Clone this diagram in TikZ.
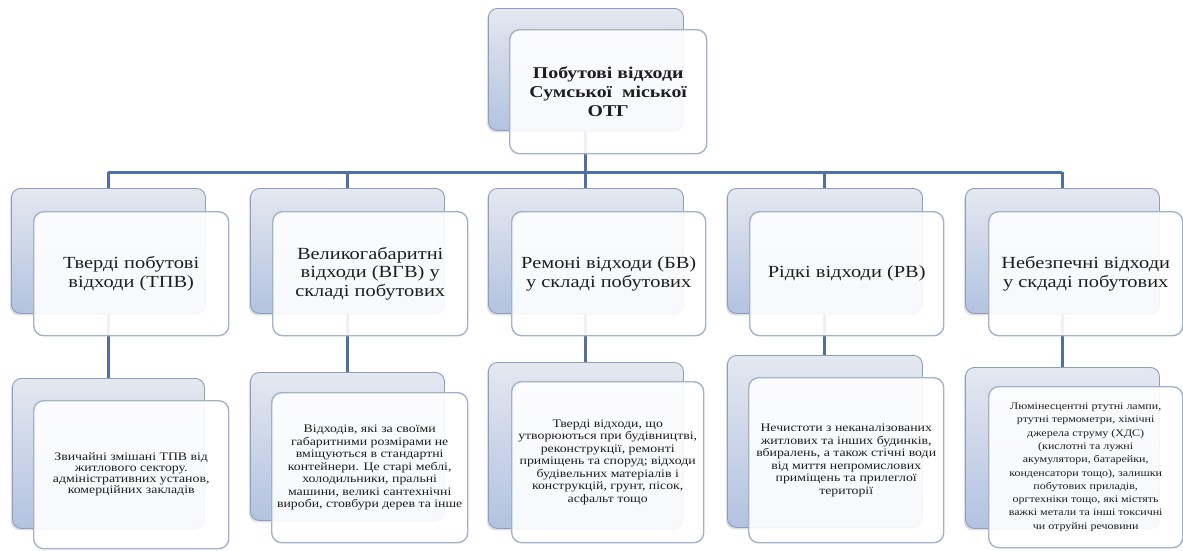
\documentclass[tikz,border=0pt]{standalone}
\usepackage{fontspec}
\setmainfont{Liberation Serif}[FakeStretch=1.2]
\usetikzlibrary{shadows}
\pgfdeclarelayer{background}
\pgfsetlayers{background,main}
\definecolor{conn}{HTML}{4F6FA8}
\definecolor{backtop}{HTML}{E4E8F0}
\definecolor{backbot}{HTML}{B2C2E0}
\definecolor{backdraw}{HTML}{8E9DBA}
\definecolor{frontdraw}{HTML}{A3B1CB}
\definecolor{txt}{HTML}{1E1E1E}
\begin{document}
\begin{tikzpicture}[x=1pt,y=-1pt,
  backbox/.style={draw=backdraw, line width=0.9pt, rounded corners=9pt,
    top color=backtop, bottom color=backbot, anchor=north west, inner sep=0pt,
    drop shadow={shadow xshift=-1.5pt, shadow yshift=-2pt, opacity=0.25}},
  frontbox/.style={draw=frontdraw, line width=1.4pt, rounded corners=10pt,
    fill=white, fill opacity=0.9, text opacity=1, anchor=north west,
    inner sep=0pt, align=center, text=txt},
  toptext/.style={font=\fontsize{16.5}{19}\selectfont\bfseries},
  midtext/.style={font=\fontsize{17}{18.5}\selectfont},
  lowtext/.style={font=\fontsize{11.5}{12.5}\selectfont},
  tighttext/.style={font=\fontsize{11.5}{11}\selectfont},
  smalltext/.style={font=\fontsize{10}{13.3}\selectfont},
  connector/.style={draw=conn, line width=3pt}]
\useasboundingbox (0,0) rectangle (1183,550);

% top
\node[backbox, minimum width=195pt, minimum height=122pt] (tb) at (488,8) {};
\node[frontbox, toptext, minimum width=197pt, minimum height=124pt] (t) at (509,29)
  {Побутові відходи\\Сумської\ \ міської\\ОТГ};

% level 2 back boxes
\node[backbox, minimum width=194pt, minimum height=125pt] (a1b) at (11,188) {};
\node[backbox, minimum width=194pt, minimum height=125pt] (a2b) at (250,188) {};
\node[backbox, minimum width=195pt, minimum height=125pt] (a3b) at (488,188) {};
\node[backbox, minimum width=195pt, minimum height=125pt] (a4b) at (727,188) {};
\node[backbox, minimum width=194pt, minimum height=125pt] (a5b) at (965,188) {};
% level 2 front boxes
\node[frontbox, midtext, minimum width=195pt, minimum height=124pt] (a1) at (33,211)
  {Тверді побутові\\відходи (ТПВ)};
\node[frontbox, midtext, minimum width=195pt, minimum height=124pt] (a2) at (272,211)
  {Великогабаритні\\відходи (ВГВ) у\\складі побутових};
\node[frontbox, midtext, minimum width=194pt, minimum height=124pt] (a3) at (511,211)
  {Ремоні відходи (БВ)\\у складі побутових};
\node[frontbox, midtext, minimum width=194pt, minimum height=124pt] (a4) at (749,211)
  {Рідкі відходи (РВ)};
\node[frontbox, midtext, minimum width=194pt, minimum height=124pt] (a5) at (988,211)
  {Небезпечні відходи\\у скдаді побутових};

% level 3 back boxes
\node[backbox, minimum width=192pt, minimum height=150pt] (c1b) at (12,378) {};
\node[backbox, minimum width=194pt, minimum height=148pt] (c2b) at (250,372) {};
\node[backbox, minimum width=195pt, minimum height=166pt] (c3b) at (488,362) {};
\node[backbox, minimum width=195pt, minimum height=172pt] (c4b) at (727,355) {};
\node[backbox, minimum width=194pt, minimum height=161pt] (c5b) at (965,367) {};
% level 3 front boxes
\node[frontbox, tighttext, minimum width=195pt, minimum height=148pt] (c1) at (33,400)
  {Звичайні змішані ТПВ від\\житлового сектору.\\адміністративних установ,\\комерційних закладів};
\node[frontbox, lowtext, minimum width=196pt, minimum height=150pt] (c2) at (271,392)
  {Відходів, які за своїми\\габаритними розмірами не\\вміщуються в стандартні\\контейнери. Це старі меблі,\\холодильники, пральні\\машини, великі сантехнічні\\вироби, стовбури дерев та інше};
\node[frontbox, lowtext, minimum width=192pt, minimum height=161pt] (c3) at (511,381)
  {Тверді відходи, що\\утворюються при будівництві,\\реконструкції, ремонті\\приміщень та споруд; відходи\\будівельних матеріалів і\\конструкцій, грунт, пісок,\\асфальт тощо};
\node[frontbox, lowtext, minimum width=195pt, minimum height=165pt] (c4) at (748,377)
  {Нечистоти з неканалізованих\\житлових та інших будинків,\\вбиралень, а також стічні води\\від миття непромислових\\приміщень та прилеглої\\території};
\node[frontbox, smalltext, minimum width=194pt, minimum height=161pt] (c5) at (988,386)
  {Люмінесцентні ртутні лампи,\\ртутні термометри, хімічні\\джерела струму (ХДС)\\(кислотні та лужні\\акумулятори, батарейки,\\конденсатори тощо), залишки\\побутових приладів,\\оргтехніки тощо, які містять\\важкі метали та інші токсичні\\чи отруйні речовини};

% connectors
\coordinate (bus) at (0,172);
\begin{pgfonlayer}{background}
  \draw[connector] (tb.south) -- (tb.south |- bus);
  \draw[connector] (a1b.north |- bus) -- (a5b.north |- bus);
  \foreach \i in {1,...,5}{
    \draw[connector] (a\i b.north |- bus) -- (a\i b.north |- c\i b.north);
  }
\end{pgfonlayer}
\end{tikzpicture}
\end{document}
